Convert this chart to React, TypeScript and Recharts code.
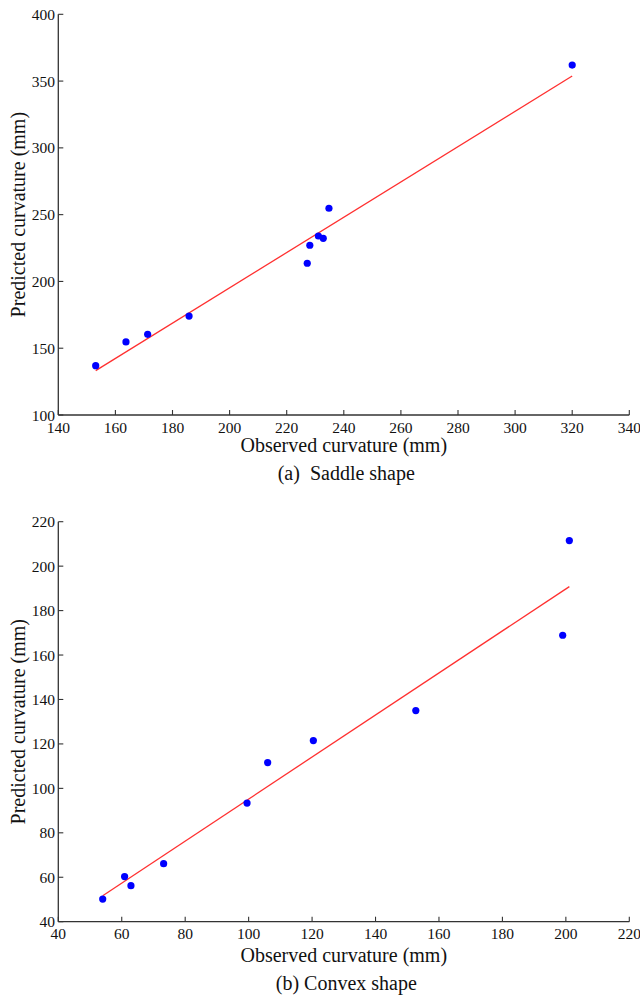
import React from 'react';
import { ScatterChart, Scatter, XAxis, YAxis, Label } from 'recharts';

// (a) Saddle shape
const saddleObserved = [153.1, 163.7, 171.3, 185.8, 227.2, 228.1, 231.1, 232.8, 234.8, 320.0];
const saddlePredicted = [136.9, 154.7, 160.4, 174.1, 213.6, 227.1, 234.0, 232.3, 254.8, 362.0];
const saddleFitX = [153.1, 320.0];
const saddleFitY = [133.2, 353.8];
const saddleXTicks = [140, 160, 180, 200, 220, 240, 260, 280, 300, 320, 340];
const saddleYTicks = [100, 150, 200, 250, 300, 350, 400];

// (b) Convex shape
const convexObserved = [54.0, 60.9, 62.9, 73.2, 99.5, 106.0, 120.4, 152.7, 199.0, 201.1];
const convexPredicted = [50.2, 60.3, 56.2, 66.1, 93.4, 111.6, 121.5, 135.0, 168.9, 211.5];
const convexFitX = [54.0, 201.1];
const convexFitY = [51.7, 190.8];
const convexXTicks = [40, 60, 80, 100, 120, 140, 160, 180, 200, 220];
const convexYTicks = [40, 60, 80, 100, 120, 140, 160, 180, 200, 220];

const xTitle = 'Observed curvature (mm)';
const yTitle = 'Predicted curvature (mm)';
const captionA = '(a)\u00a0\u00a0Saddle shape';
const captionB = '(b) Convex shape';

const FONT = '"Liberation Serif", "Times New Roman", serif';
const AXIS = '#333333';
const TEXT = '#111111';

type PanelProps = {
  xs: number[];
  ys: number[];
  fx: number[];
  fy: number[];
  xTicks: number[];
  yTicks: number[];
  caption: string;
  height: number;
  marginTop: number;
  xAxisHeight: number;
  titleOffset: number;
  captionOffset: number;
};

const Dot = (p: any) => <circle cx={p.cx} cy={p.cy} r={3.6} fill="#0000ff" />;
const NoShape = () => <g />;

function Panel(props: PanelProps) {
  const { xs, ys, fx, fy, xTicks, yTicks, caption, height, marginTop, xAxisHeight, titleOffset, captionOffset } = props;
  const points = xs.map((x, i) => ({ x, y: ys[i] }));
  const fit = fx.map((x, i) => ({ x, y: fy[i] }));
  const xDomain: [number, number] = [xTicks[0], xTicks[xTicks.length - 1]];
  const yDomain: [number, number] = [yTicks[0], yTicks[yTicks.length - 1]];
  const tickStyle = { fontFamily: FONT, fontSize: 15.5, fill: TEXT, style: { fontFamily: FONT } };
  const axisLine = { stroke: AXIS, strokeWidth: 1.3 };
  const tickLine = { stroke: AXIS, strokeWidth: 1.1 };
  return (
    <ScatterChart
      width={640}
      height={height}
      margin={{ top: marginTop, right: 10.7, bottom: 0, left: 0 }}
      style={{ fontFamily: FONT }}
    >
      <XAxis
        dataKey="x"
        type="number"
        domain={xDomain}
        ticks={xTicks}
        interval={0}
        height={xAxisHeight}
        tickSize={-5}
        tickMargin={11.5}
        tick={tickStyle}
        axisLine={axisLine}
        tickLine={tickLine}
      >
        <Label
          value={xTitle}
          position="insideBottom"
          offset={titleOffset}
          style={{ fontFamily: FONT, fontSize: 20, fill: TEXT }}
        />
        <Label
          value={caption}
          position="insideBottom"
          offset={captionOffset}
          dx={2.5}
          style={{ fontFamily: FONT, fontSize: 20, fill: TEXT }}
        />
      </XAxis>
      <XAxis
        xAxisId="top"
        orientation="top"
        dataKey="x"
        type="number"
        domain={xDomain}
        ticks={xTicks}
        interval={0}
        height={0}
        tickSize={-5}
        tickFormatter={() => ''}
        axisLine={axisLine}
        tickLine={tickLine}
      />
      <YAxis
        dataKey="y"
        type="number"
        domain={yDomain}
        ticks={yTicks}
        interval={0}
        width={58.3}
        tickSize={-5}
        tickMargin={8.3}
        tick={tickStyle}
        axisLine={axisLine}
        tickLine={tickLine}
      >
        <Label
          value={yTitle}
          angle={-90}
          position="insideLeft"
          offset={18}
          style={{ fontFamily: FONT, fontSize: 20, fill: TEXT, textAnchor: 'middle' }}
        />
      </YAxis>
      <YAxis
        yAxisId="right"
        orientation="right"
        dataKey="y"
        type="number"
        domain={yDomain}
        ticks={yTicks}
        interval={0}
        width={0}
        tickSize={-5}
        tickFormatter={() => ''}
        axisLine={axisLine}
        tickLine={tickLine}
      />
      <Scatter
        data={fit}
        line={{ stroke: '#ff3030', strokeWidth: 1.3 }}
        lineType="joint"
        shape={NoShape}
        isAnimationActive={false}
      />
      <Scatter data={points} shape={Dot} isAnimationActive={false} />
    </ScatterChart>
  );
}

export default function App() {
  return (
    <div style={{ position: 'absolute', left: 0, top: 0, width: 640, height: 998, background: '#ffffff', fontFamily: FONT }}>
      <div style={{ position: 'absolute', left: 0, top: 0 }}>
        <Panel
          xs={saddleObserved}
          ys={saddlePredicted}
          fx={saddleFitX}
          fy={saddleFitY}
          xTicks={saddleXTicks}
          yTicks={saddleYTicks}
          caption={captionA}
          height={490}
          marginTop={14.3}
          xAxisHeight={75}
          titleOffset={38}
          captionOffset={10}
        />
      </div>
      <div style={{ position: 'absolute', left: 0, top: 490 }}>
        <Panel
          xs={convexObserved}
          ys={convexPredicted}
          fx={convexFitX}
          fy={convexFitY}
          xTicks={convexXTicks}
          yTicks={convexYTicks}
          caption={captionB}
          height={508}
          marginTop={31.7}
          xAxisHeight={76.3}
          titleOffset={36.3}
          captionOffset={8}
        />
      </div>
    </div>
  );
}
